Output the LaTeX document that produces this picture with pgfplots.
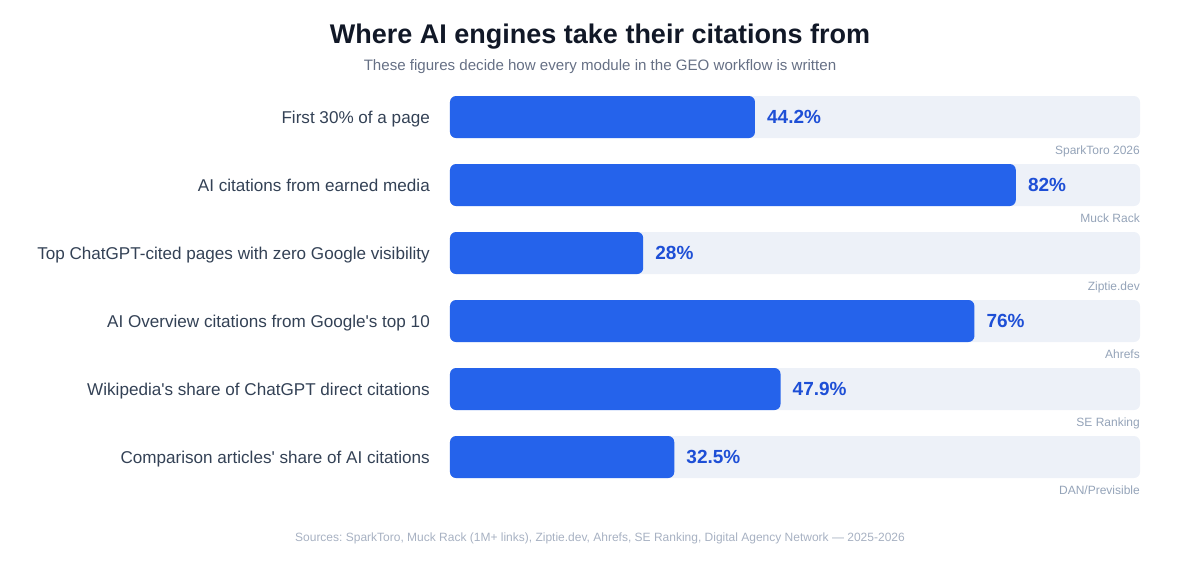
\documentclass[border=0pt]{standalone}
\usepackage{pgfplots}
\usepackage{pgfplotstable}
\pgfplotsset{compat=1.18}
\usepackage{fontspec}
\setmainfont{Liberation Sans}
\frenchspacing
\definecolor{barblue}{HTML}{2563EB}
\definecolor{track}{HTML}{EDF1F8}
\definecolor{valblue}{HTML}{1E4FD6}
\definecolor{titlec}{HTML}{111827}
\definecolor{subc}{HTML}{667085}
\definecolor{catc}{HTML}{334155}
\definecolor{srcc}{HTML}{94A3B8}
\definecolor{footc}{HTML}{A7B1C2}

\pgfplotstableread[col sep=comma]{
row,val,full,src
0,44.2,100,SparkToro 2026
1,82,100,Muck Rack
2,28,100,Ziptie.dev
3,76,100,Ahrefs
4,47.9,100,SE Ranking
5,32.5,100,DAN/Previsible
}\datatable

\begin{document}
\begin{tikzpicture}
\path[use as bounding box] (0pt,0pt) rectangle (1200pt,-560pt);
\node[anchor=base, inner sep=0, text=titlec, font=\fontsize{27}{32}\selectfont\bfseries] at (600pt,-43pt) {Where AI engines take their citations from};
\node[anchor=base, inner sep=0, text=subc, font=\fontsize{15.1}{18}\selectfont] at (600pt,-70pt) {These figures decide how every module in the GEO workflow is written};
\node[anchor=base, inner sep=0, text=footc, font=\fontsize{12}{14}\selectfont] at (600pt,-541pt) {Sources: SparkToro, Muck Rack (1M+ links), Ziptie.dev, Ahrefs, SE Ranking, Digital Agency Network — 2025-2026};
\begin{axis}[
  at={(450pt,-491pt)}, anchor=south west,
  scale only axis, width=690pt, height=408pt,
  xmin=0, xmax=100, ymin=-0.5, ymax=5.5, y dir=reverse,
  axis line style={draw=none}, tick style={draw=none},
  major tick length=0pt,
  /pgf/number format/assume math mode=true,
  xtick=\empty,
  ytick={0,1,2,3,4,5},
  yticklabels={First 30\% of a page, AI citations from earned media, Top ChatGPT-cited pages with zero Google visibility, AI Overview citations from Google{\textquotesingle}s top 10, Wikipedia{\textquotesingle}s share of ChatGPT direct citations, Comparison articles{\textquotesingle} share of AI citations},
  yticklabel style={font=\fontsize{17.1}{20}\selectfont, text=catc, anchor=base east, inner sep=0pt, yshift=-6.1pt, xshift=-20pt},
  clip=false,
  xbar, bar width=42pt,
]
\addplot[xbar, bar shift=0pt, fill=track, draw=none, rounded corners=6pt,
  point meta=explicit symbolic, nodes near coords,
  nodes near coords style={anchor=base east, inner sep=0pt, xshift=0pt, yshift=-37pt, font=\fontsize{12}{14}\selectfont, text=srcc}]
  table[x=full, y=row, meta=src] {\datatable};
\addplot[xbar, bar shift=0pt, fill=barblue, draw=none, rounded corners=6pt,
  point meta=x, nodes near coords={\pgfmathprintnumber{\pgfplotspointmeta}\%},
  nodes near coords style={anchor=base west, inner sep=0pt, xshift=12pt, yshift=-6.6pt, font=\fontsize{19}{22}\selectfont\bfseries, text=valblue}]
  table[x=val, y=row] {\datatable};
\end{axis}
\end{tikzpicture}
\end{document}
